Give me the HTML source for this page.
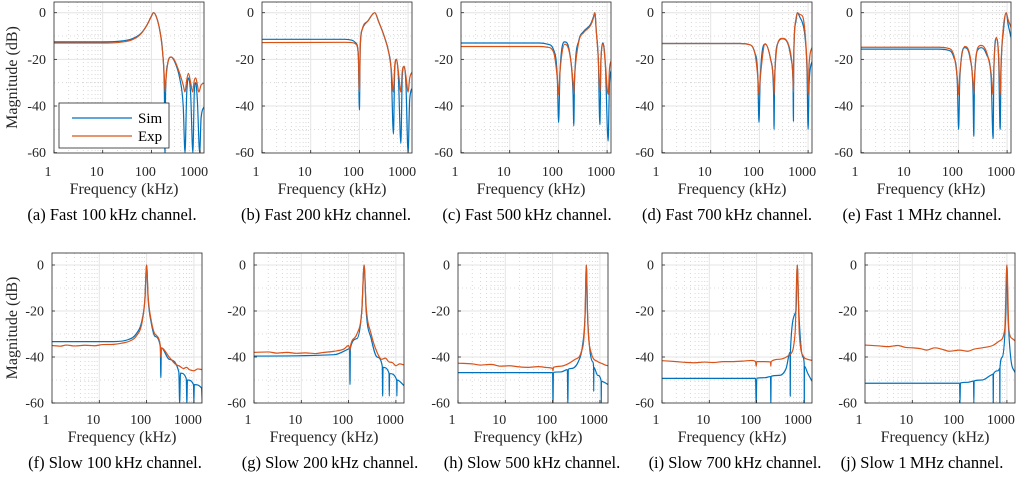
<!DOCTYPE html>
<html><head><meta charset="utf-8"><style>
html,body{margin:0;padding:0;background:#fff;}
svg{display:block;font-family:"Liberation Serif",serif;}
text{font-family:"Liberation Serif",serif;}
</style></head><body>
<svg id="fig" width="1024" height="480" viewBox="0 0 1024 480" xmlns="http://www.w3.org/2000/svg" font-family="Liberation Serif, serif"></svg>
<script>
// ---- data: [frequency kHz, magnitude dB] ----
const simA=[[1,-12.5],[10,-12.5],[20,-12.3],[40,-11.2],[60,-9],[80,-5.5],[100,-1.5],[110,0],[125,-1.5],[150,-8],[170,-17],[185,-35],[190,-60],[195,-35],[215,-22],[253,-19],[300,-21],[380,-28],[450,-40],[490,-60],[530,-35],[576,-28],[640,-35],[710,-60],[760,-34],[815,-30],[880,-38],[980,-60],[1050,-45],[1250,-40]];
const expA=[[1,-13],[10,-13],[20,-12.8],[40,-11.6],[60,-9.2],[80,-5.5],[100,-1.5],[110,0],[125,-1.5],[150,-8],[170,-17],[185,-28],[192,-34],[200,-28],[220,-21],[253,-19],[300,-20.5],[380,-26],[450,-31],[490,-34],[530,-29],[576,-26],[640,-30],[700,-34],[760,-29],[815,-28],[880,-31],[940,-34],[1050,-31],[1250,-30]];
const simB=[[1,-11.4],[50,-11.4],[70,-11.8],[85,-13],[95,-18],[100,-41.7],[104,-15],[115,-7],[150,-3.5],[207,0],[250,-4],[322,-10],[400,-17],[450,-25],[500,-52],[530,-25],[575,-20],[630,-27],[710,-56],[760,-27],[830,-23],[900,-30],[1000,-60],[1080,-37],[1250,-32]];
const expB=[[1,-12.8],[50,-12.7],[70,-12.8],[85,-13.5],[95,-18],[100,-34],[104,-15],[115,-7],[150,-3.5],[207,0],[250,-4],[322,-10],[400,-17],[450,-24],[500,-34],[530,-23],[575,-20],[630,-25],[710,-34],[760,-25],[830,-23],[900,-27],[1000,-34],[1080,-28],[1250,-25]];
const simC=[[1,-13],[40,-13],[60,-13.5],[80,-16],[95,-28],[101,-47],[108,-25],[135,-12.5],[170,-17],[200,-35],[207,-48.5],[214,-30],[262,-12],[330,-8],[455,-5],[520,-2],[560,0],[600,-8],[660,-20],[710,-48],[750,-20],[830,-13],[920,-22],[1050,-55],[1120,-30],[1250,-24]];
const expC=[[1,-14.5],[40,-14.5],[60,-14.8],[80,-17],[95,-28],[101,-35],[108,-25],[135,-13.5],[170,-17.5],[200,-30],[207,-35],[214,-28],[262,-12.5],[330,-8.5],[455,-5.5],[520,-2.5],[560,0],[600,-8],[660,-20],[710,-34],[750,-19],[830,-13.5],[920,-22],[1050,-35],[1120,-24],[1250,-20]];
const simD=[[1,-13.2],[40,-13.2],[60,-13.6],[80,-17],[93,-28],[98,-47],[104,-28],[131,-13.5],[170,-20],[196,-35],[200,-50],[205,-30],[240,-13],[297,-11.2],[380,-13],[450,-20],[490,-30],[500,-46.5],[505,-22],[560,-4],[600,0],[680,-2],[770,-4.5],[860,-10],[950,-25],[1000,-50],[1050,-30],[1250,-20]];
const expD=[[1,-13.2],[40,-13.2],[60,-13.6],[80,-17],[93,-28],[98,-35],[104,-28],[131,-13.3],[170,-20],[196,-30],[200,-35],[205,-28],[240,-12.8],[297,-11],[380,-12.8],[450,-19],[490,-28],[500,-34],[505,-20],[560,-3],[600,0],[680,-0.8],[770,-1.5],[860,-8],[950,-22],[1000,-35],[1050,-22],[1250,-14]];
const simE=[[1,-15.6],[40,-15.6],[60,-16],[80,-19],[95,-30],[101,-50],[107,-28],[135,-15],[175,-20],[200,-35],[207,-53],[214,-30],[250,-16],[297,-15],[380,-18],[470,-28],[515,-54],[535,-25],[600,-11],[670,-20],[720,-50],[750,-25],[840,-8],[960,0],[1050,-5],[1250,-12]];
const expE=[[1,-14.8],[40,-14.8],[60,-15.2],[80,-18],[95,-28],[101,-35],[107,-26],[135,-14.5],[175,-19],[200,-30],[207,-35],[214,-28],[250,-15],[297,-14],[380,-17],[470,-26],[515,-35],[535,-23],[600,-10.5],[670,-18],[720,-35],[750,-22],[840,-6],[960,0],[1050,-3],[1250,-7]];
const simF=[[1,-33.3],[20,-33.3],[40,-32.5],[60,-30],[80,-24],[92,-15],[100,0],[108,-15],[125,-25],[150,-31],[195,-35.5],[200,-49],[205,-36],[300,-41],[480,-46.5],[500,-60],[520,-47],[690,-49.5],[710,-60],[730,-50],[980,-52],[1000,-60],[1020,-52],[1450,-53.5],[1500,-60]];
const expF=[[1,-35],[1.5,-35.3],[2,-34.8],[3,-35.2],[5,-34.9],[8,-35.1],[12,-34.6],[20,-34.5],[30,-34],[45,-33],[60,-31],[80,-25],[92,-15],[100,0],[108,-14],[125,-24],[150,-30],[195,-35],[200,-40],[205,-36],[300,-40],[400,-43],[500,-44],[600,-45],[700,-44.5],[800,-45.5],[1000,-46],[1200,-45.2],[1500,-45.5]];
const simG=[[1,-39.6],[50,-39],[100,-36.5],[105,-36.3],[107,-52],[109,-36.2],[150,-32],[190,-20],[213,0],[235,-20],[300,-32],[400,-40],[515,-44],[525,-57],[535,-44.5],[715,-47],[725,-57],[735,-47.2],[1040,-50],[1050,-57],[1060,-50],[1500,-52.5]];
const expG=[[1,-38],[2,-37.8],[3,-38.3],[5,-38],[8,-38.4],[12,-38.2],[20,-38.5],[30,-38],[50,-37.5],[80,-36.5],[100,-35],[107,-37],[110,-35],[150,-30],[190,-20],[213,0],[235,-18],[300,-30],[400,-38],[500,-41],[600,-40.5],[700,-42],[850,-42.5],[1000,-43.8],[1200,-43],[1500,-43.5]];
const simH=[[1,-46.8],[100,-46.8],[102,-60],[104,-46.7],[150,-46.5],[205,-45.5],[210,-60],[215,-45.3],[250,-45],[350,-42],[430,-35],[490,-20],[517,0],[545,-20],[600,-35],[700,-42],[735,-44],[740,-55],[745,-44.5],[900,-48],[1065,-50.5],[1070,-60],[1075,-50.6],[1500,-52]];
const expH=[[1,-42.7],[2,-43],[3,-43.5],[5,-43.2],[8,-44],[12,-43.8],[20,-44.3],[30,-44.5],[50,-44.2],[80,-44.6],[100,-45],[102,-46],[104,-44.5],[150,-44],[210,-43],[300,-41],[400,-38],[480,-25],[517,0],[555,-25],[650,-38],[900,-42],[1100,-42.8],[1300,-43.5],[1500,-43.8]];
const simI=[[1,-49.3],[95,-49.3],[98,-60],[101,-49.2],[150,-49],[197,-48.5],[200,-60],[203,-48.4],[300,-48],[420,-45],[510,-38],[515,-57],[520,-37],[680,-20],[725,0],[780,-20],[950,-40],[1015,-43],[1020,-60],[1025,-44],[1200,-47],[1500,-50.7]];
const expI=[[1,-41.6],[2,-42],[3,-42.3],[5,-42.5],[8,-42.2],[12,-42.4],[20,-42],[30,-42],[50,-41.8],[80,-41.5],[95,-42],[98,-44],[101,-42],[150,-42],[197,-42.2],[200,-44],[203,-42],[300,-41],[500,-39],[650,-30],[725,0],[800,-30],[1000,-40],[1200,-41],[1500,-41.5]];
const simJ=[[1,-51.4],[100,-51.4],[102,-60],[104,-51.3],[150,-51],[197,-50.5],[200,-60],[203,-50.4],[300,-50],[450,-48],[510,-47.5],[515,-60],[520,-47.4],[650,-46],[705,-45],[710,-60],[715,-44.5],[800,-40],[950,-20],[1000,0],[1050,-20],[1200,-40],[1500,-47]];
const expJ=[[1,-34.8],[2,-35.2],[3,-35.5],[5,-35],[7,-35.8],[10,-36],[15,-36.4],[20,-37],[30,-36],[45,-36.8],[60,-37.5],[100,-37],[150,-37.5],[200,-36.6],[300,-36],[500,-35],[700,-33],[900,-28],[1000,0],[1100,-28],[1300,-32],[1500,-33]];
const yTicks=[0,-20,-40,-60];
const xTicks=[1,10,100,1000];
const captions=["(a) Fast 100\u2009kHz channel.","(b) Fast 200\u2009kHz channel.","(c) Fast 500\u2009kHz channel.","(d) Fast 700\u2009kHz channel.","(e) Fast 1\u2009MHz channel.","(f) Slow 100\u2009kHz channel.","(g) Slow 200\u2009kHz channel.","(h) Slow 500\u2009kHz channel.","(i) Slow 700\u2009kHz channel.","(j) Slow 1\u2009MHz channel."];
const sims=[simA,simB,simC,simD,simE,simF,simG,simH,simI,simJ];
const exps=[expA,expB,expC,expD,expE,expF,expG,expH,expI,expJ];

// ---- layout ----
const rows=[{top:2,bot:153,y0:12.7,k:2.333,dec:48.7,tickY:176,labY:194,capY:220},
            {top:253,bot:403,y0:265,k:2.3,dec:47.3,tickY:424,labY:442,capY:468}];
const lefts=[[54,262,461,662,861],[52,254,458,662,865]];
const capX=[[112,326,527,727,922],[115,330,532,735,922]];
const W=150;
const NS="http://www.w3.org/2000/svg";
const FONT="Liberation Serif, serif";
const svg=document.getElementById('fig');
function mk(tag,attrs,parent){const e=document.createElementNS(NS,tag);for(const a in attrs)e.setAttribute(a,attrs[a]);if(tag==='text')e.setAttribute('font-family',FONT);(parent||svg).appendChild(e);return e;}
const SIM="#0072BD",EXP="#D95319";

function monoPath(P){
  const n=P.length;if(n<2)return '';
  const d=[],m=[];
  for(let i=0;i<n-1;i++){const dx=P[i+1][0]-P[i][0];d.push(dx===0?0:(P[i+1][1]-P[i][1])/dx);}
  m[0]=d[0];m[n-1]=d[n-2];
  for(let i=1;i<n-1;i++){m[i]=(d[i-1]*d[i]<=0)?0:(d[i-1]+d[i])/2;}
  for(let i=0;i<n-1;i++){
    if(d[i]===0){m[i]=0;m[i+1]=0;continue;}
    const a=m[i]/d[i],b=m[i+1]/d[i],s=a*a+b*b;
    if(s>9){const t=3/Math.sqrt(s);m[i]=t*a*d[i];m[i+1]=t*b*d[i];}
  }
  let s='M'+P[0][0].toFixed(2)+','+P[0][1].toFixed(2);
  for(let i=0;i<n-1;i++){
    const h=(P[i+1][0]-P[i][0])/3;
    s+=' C'+(P[i][0]+h).toFixed(2)+','+(P[i][1]+m[i]*h).toFixed(2)+' '+(P[i+1][0]-h).toFixed(2)+','+(P[i+1][1]-m[i+1]*h).toFixed(2)+' '+P[i+1][0].toFixed(2)+','+P[i+1][1].toFixed(2);
  }
  return s;
}

for(let p=0;p<10;p++){
  const ri=Math.floor(p/5), r=rows[ri], L=lefts[ri][p%5];
  const xs=f=>L+Math.log10(f)*r.dec;
  const ys=d=>r.y0-d*r.k;
  const g=mk('g',{});
  
  
  const cid='clip'+p;
  const cp=mk('clipPath',{id:cid},g);mk('rect',{x:L,y:r.top,width:W,height:r.bot-r.top},cp);
  for(let e=0;e<4;e++)for(let m=1;m<10;m++){
    const f=m*Math.pow(10,e),x=xs(f);
    if(x<=L+0.5||x>=L+W)continue;
    const gl=mk('line',{x1:x,x2:x,y1:r.top,y2:r.bot,stroke:m==1?'#e4e4e4':'#cfcfcf','stroke-width':m==1?1:0.8,'stroke-dasharray':m==1?'':'1 3'},g);
    
    
  }
  for(let d=0;d>=-50;d-=10){
    const y=ys(d);
    const gl=mk('line',{x1:L,x2:L+W,y1:y,y2:y,stroke:d%20==0?'#e4e4e4':'#cfcfcf','stroke-width':d%20==0?1:0.8,'stroke-dasharray':d%20==0?'':'1 3'},g);
    
    
  }
  const cg=mk('g',{'clip-path':'url(#'+cid+')'},g);
  [[sims[p],SIM,'sim-line'],[exps[p],EXP,'exp-line']].forEach(([data,col,nm])=>{
    const P=data.map(([f,d])=>[xs(f),ys(d)]);
    const pl=mk('path',{d:monoPath(P),fill:'none',stroke:col,'stroke-width':1.2,'stroke-linejoin':'round'},cg);
    
    
  });
  const bx=mk('rect',{x:L,y:r.top,width:W,height:r.bot-r.top,fill:'none',stroke:'#262626','stroke-width':0.8},g);
  
  
  yTicks.forEach(d=>{
    const y=ys(d);
    mk('line',{x1:L,x2:L+3,y1:y,y2:y,stroke:'#262626','stroke-width':0.8},g);
    const t=mk('text',{x:L-8,y:y+4.5,'text-anchor':'end','font-size':14,fill:'#262626'},g);
    t.textContent=String(d);
    
    
  });
  xTicks.forEach(f=>{
    const x=xs(f);
    mk('line',{x1:x,x2:x,y1:r.bot,y2:r.bot-3,stroke:'#262626','stroke-width':0.8},g);
    const t=mk('text',{x:x-6,y:r.tickY,'text-anchor':'middle','font-size':14,fill:'#262626'},g);
    t.textContent=String(f);
    
    
  });
  const xl=mk('text',{x:L+W/2-5,y:r.labY,'text-anchor':'middle','font-size':16,fill:'#262626'},g);
  xl.textContent='Frequency (kHz)';
  
  
  const cap=mk('text',{x:capX[ri][p%5],y:r.capY,'text-anchor':'middle','font-size':16.5,fill:'#000'},g);
  cap.textContent=captions[p];
  
  
  if(p%5==0){
    const yl=mk('text',{x:0,y:0,'text-anchor':'middle','font-size':16,fill:'#262626',transform:'translate(17,'+((r.top+r.bot)/2)+') rotate(-90)'},g);
    yl.textContent='Magnitude (dB)';
    
    
  }
}
const lg=mk('g',{});


mk('rect',{x:59,y:103,width:110,height:45,fill:'#fff',stroke:'#262626','stroke-width':0.8},lg);
const l1=mk('line',{x1:72,x2:132,y1:118,y2:118,stroke:SIM,'stroke-width':1.2},lg);


const t1=mk('text',{x:138,y:123,'font-size':15,fill:'#000'},lg);t1.textContent='Sim';


const l2=mk('line',{x1:72,x2:132,y1:136,y2:136,stroke:EXP,'stroke-width':1.2},lg);


const t2=mk('text',{x:138,y:141,'font-size':15,fill:'#000'},lg);t2.textContent='Exp';


</script>
</body></html>
